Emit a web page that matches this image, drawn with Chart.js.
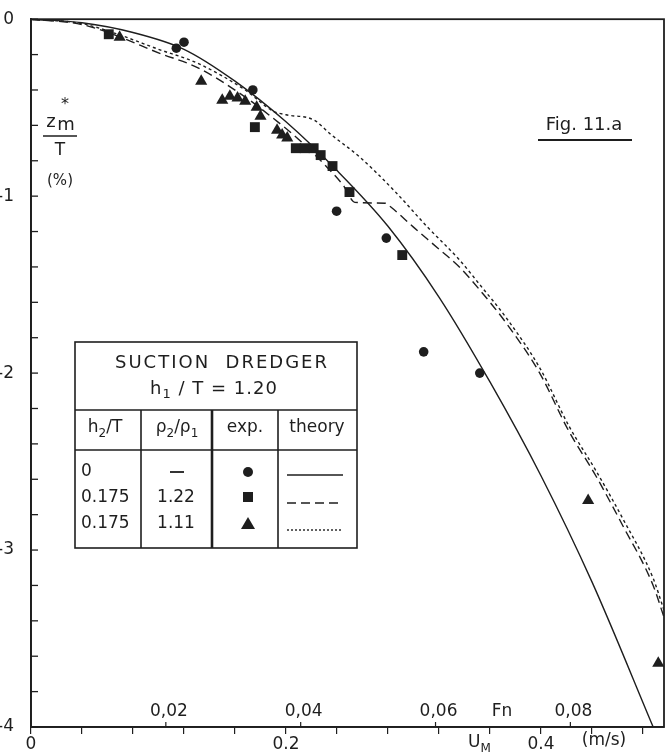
<!DOCTYPE html>
<html lang="en">
<head>
  <meta charset="UTF-8">
  <title>Suction dredger - sinkage z*m/T</title>
  <script src="https://cdn.jsdelivr.net/npm/chart.js"></script>
  <style>
    body { margin: 0; background: #fff; }
    #wrap { width: 671px; height: 755px; }
  </style>
</head>
<body>
  <div id="wrap"><canvas id="chart" width="671" height="755"></canvas></div>

  <script>
    // model speed U_M in m/s, sinkage z*m/T in %
    const X_MAX = 0.4965;      // right edge of the frame (m/s)
    const FN_PER_U = 0.1891;   // Froude number per m/s of model speed

    const uTicks = [0, 0.2, 0.4];
    const fnTicks = [0.02, 0.04, 0.06, 0.08];
    const fnTickLabels = ["0,02", "0,04", "0,06", "0,08"];
    const zLabels = [0, -1, -2, -3, -4];

    // theory, h2/T = 0
    const solidU = [0, 0.04, 0.08, 0.12, 0.16, 0.20, 0.24, 0.28, 0.32, 0.36, 0.40, 0.44, 0.488];
    const solidZ = [0, -0.02, -0.075, -0.17, -0.35, -0.58, -0.855, -1.17, -1.57, -2.05, -2.58, -3.18, -4.0];

    // theory, h2/T = 0.175, rho2/rho1 = 1.22
    const dashU = [0, 0.04, 0.066, 0.10, 0.131, 0.168, 0.19, 0.21, 0.23, 0.245, 0.254, 0.278, 0.282, 0.30, 0.3185, 0.336, 0.352, 0.373, 0.399, 0.422, 0.443, 0.464, 0.488, 0.4965];
    const dashZ = [0, -0.03, -0.09, -0.19, -0.275, -0.44, -0.56, -0.68, -0.82, -0.94, -1.035, -1.04, -1.06, -1.175, -1.29, -1.40, -1.53, -1.72, -2.00, -2.33, -2.58, -2.86, -3.20, -3.38];

    // theory, h2/T = 0.175, rho2/rho1 = 1.11
    const dotU = [0, 0.04, 0.066, 0.10, 0.131, 0.168, 0.19, 0.20, 0.222, 0.235, 0.258, 0.285, 0.311, 0.336, 0.352, 0.373, 0.399, 0.422, 0.443, 0.464, 0.488, 0.4965];
    const dotZ = [0, -0.025, -0.08, -0.17, -0.25, -0.40, -0.52, -0.54, -0.57, -0.65, -0.78, -0.97, -1.175, -1.36, -1.50, -1.69, -1.97, -2.30, -2.55, -2.82, -3.16, -3.34];

    // measurements
    const circleU = [0.114, 0.120, 0.174, 0.2397, 0.2787, 0.308, 0.352];
    const circleZ = [-0.164, -0.13, -0.40, -1.085, -1.237, -1.88, -2.00];
    const squareU = [0.061, 0.1756, 0.2077, 0.2147, 0.2217, 0.2272, 0.2365, 0.2498, 0.2912];
    const squareZ = [-0.085, -0.61, -0.729, -0.729, -0.729, -0.768, -0.83, -0.977, -1.333];
    const triU = [0.0695, 0.1335, 0.150, 0.156, 0.162, 0.168, 0.177, 0.180, 0.193, 0.197, 0.201, 0.437, 0.492];
    const triZ = [-0.102, -0.35, -0.458, -0.435, -0.446, -0.463, -0.497, -0.548, -0.627, -0.655, -0.672, -2.72, -3.64];

    const INK = "#1e1e1e";
    const FONT = "'DejaVu Sans', sans-serif";

    function pts(xs, ys) {
      return xs.map((x, i) => ({ x: x, y: ys[i] }));
    }

    function pickLabel(list, v) {
      const hit = list.find((t) => Math.abs(t - v) < 1e-6);
      return hit === undefined ? "" : String(hit);
    }

    // text with subscripts: parts = [[text, isSub], ...]
    function drawRich(ctx, parts, x, y, size, align) {
      const subSize = Math.round(size * 0.72);
      let w = 0;
      parts.forEach((p) => {
        ctx.font = (p[1] ? subSize : size) + "px " + FONT;
        w += ctx.measureText(p[0]).width;
      });
      let cx = align === "center" ? x - w / 2 : x;
      ctx.textAlign = "left";
      ctx.textBaseline = "middle";
      parts.forEach((p) => {
        ctx.font = (p[1] ? subSize : size) + "px " + FONT;
        ctx.fillText(p[0], cx, p[1] ? y + size * 0.32 : y);
        cx += ctx.measureText(p[0]).width;
      });
    }

    function line(ctx, x1, y1, x2, y2, w, dash) {
      ctx.save();
      ctx.lineWidth = w;
      ctx.setLineDash(dash || []);
      ctx.beginPath();
      ctx.moveTo(x1, y1);
      ctx.lineTo(x2, y2);
      ctx.stroke();
      ctx.restore();
    }

    const decor = {
      id: "decor",
      afterDraw(chart) {
        const ctx = chart.ctx;
        const a = chart.chartArea;
        const ys = chart.scales.y;
        const fn = chart.scales.fn;
        ctx.save();
        ctx.strokeStyle = INK;
        ctx.fillStyle = INK;

        // frame
        ctx.lineWidth = 1.8;
        ctx.strokeRect(a.left, a.top, a.right - a.left, a.bottom - a.top);

        // inward ticks on the z axis
        ys.ticks.forEach((t) => {
          const y = ys.getPixelForValue(t.value);
          line(ctx, a.left, y, a.left + 7, y, 1.3);
        });

        // Froude number scale along the bottom, inside the frame
        ctx.font = "17px " + FONT;
        ctx.textAlign = "center";
        ctx.textBaseline = "middle";
        fnTicks.forEach((v, i) => {
          const x = fn.getPixelForValue(v);
          line(ctx, x, a.bottom, x, a.bottom - 5, 1.2);
          ctx.fillText(fnTickLabels[i], x + 3, a.bottom - 15);
        });
        ctx.fillText("Fn", 502, a.bottom - 15);

        // speed axis name
        drawRich(ctx, [["U", false], ["M", true]], 468, 743, 17, "left");
        ctx.font = "17px " + FONT;
        ctx.textAlign = "center";
        ctx.fillText("(m/s)", 604, 741);

        // z axis title
        ctx.font = "18px " + FONT;
        ctx.textAlign = "center";
        ctx.fillText("z", 51, 122);
        ctx.fillText("m", 66, 125);
        ctx.font = "16px " + FONT;
        ctx.fillText("*", 65, 105);
        line(ctx, 43, 136, 77, 136, 1.6);
        ctx.font = "17px " + FONT;
        ctx.fillText("T", 60, 151);
        ctx.font = "15px " + FONT;
        ctx.fillText("(%)", 60, 181);

        // figure tag
        ctx.font = "18px " + FONT;
        ctx.fillText("Fig. 11.a", 584, 125);
        line(ctx, 538, 140, 632, 140, 1.8);

        // key table
        const L = 75, T = 342, R = 357, B = 548;
        ctx.fillStyle = "#fff";
        ctx.fillRect(L, T, R - L, B - T);
        ctx.fillStyle = INK;
        ctx.lineWidth = 1.6;
        ctx.strokeRect(L, T, R - L, B - T);
        line(ctx, L, 410, R, 410, 1.6);
        line(ctx, L, 450, R, 450, 1.6);
        line(ctx, 141, 410, 141, B, 1.6);
        line(ctx, 212, 410, 212, B, 2.6);
        line(ctx, 278, 410, 278, B, 1.6);

        ctx.font = "18px " + FONT;
        ctx.textAlign = "center";
        ctx.letterSpacing = "2px";
        ctx.fillText("SUCTION  DREDGER", 222, 363);
        ctx.letterSpacing = "1px";
        drawRich(ctx, [["h", false], ["1", true], [" / T = 1.20", false]], 214, 389, 18, "center");
        ctx.letterSpacing = "0px";

        drawRich(ctx, [["h", false], ["2", true], ["/T", false]], 105, 428, 17, "center");
        drawRich(ctx, [["\u03c1", false], ["2", true], ["/\u03c1", false], ["1", true]], 177, 428, 17, "center");
        ctx.font = "17px " + FONT;
        ctx.textAlign = "center";
        ctx.fillText("exp.", 245, 428);
        ctx.fillText("theory", 317, 428);

        ctx.textAlign = "left";
        ctx.fillText("0", 81, 472);
        ctx.fillText("0.175", 81, 498);
        ctx.fillText("0.175", 81, 524);
        ctx.textAlign = "center";
        line(ctx, 170, 472, 184, 472, 1.8);
        ctx.fillText("1.22", 176, 498);
        ctx.fillText("1.11", 176, 524);

        ctx.beginPath();
        ctx.arc(248, 472, 5, 0, Math.PI * 2);
        ctx.fill();
        ctx.fillRect(243, 492, 10, 10);
        ctx.beginPath();
        ctx.moveTo(241, 529);
        ctx.lineTo(255, 529);
        ctx.lineTo(248, 517);
        ctx.closePath();
        ctx.fill();

        line(ctx, 287, 475, 343, 475, 1.4);
        line(ctx, 287, 503, 343, 503, 1.4, [9, 5]);
        line(ctx, 287, 530, 343, 530, 1.4, [2, 2]);

        ctx.restore();
      }
    };

    new Chart(document.getElementById("chart"), {
      type: "scatter",
      data: {
        datasets: [
          {
            label: "theory h2/T = 0",
            data: pts(solidU, solidZ),
            showLine: true,
            borderColor: INK,
            borderWidth: 1.4,
            pointRadius: 0,
            cubicInterpolationMode: "monotone"
          },
          {
            label: "theory rho2/rho1 = 1.22",
            data: pts(dashU, dashZ),
            showLine: true,
            borderColor: INK,
            borderWidth: 1.4,
            borderDash: [9, 5],
            pointRadius: 0,
            cubicInterpolationMode: "monotone"
          },
          {
            label: "theory rho2/rho1 = 1.11",
            data: pts(dotU, dotZ),
            showLine: true,
            borderColor: INK,
            borderWidth: 1.4,
            borderDash: [3, 3],
            pointRadius: 0,
            cubicInterpolationMode: "monotone"
          },
          {
            label: "exp. h2/T = 0",
            data: pts(circleU, circleZ),
            pointStyle: "circle",
            pointRadius: 4.8,
            backgroundColor: INK,
            borderColor: INK,
            borderWidth: 0,
            clip: false
          },
          {
            label: "exp. rho2/rho1 = 1.22",
            data: pts(squareU, squareZ),
            pointStyle: "rect",
            pointRadius: 7,
            backgroundColor: INK,
            borderColor: INK,
            borderWidth: 0,
            clip: false
          },
          {
            label: "exp. rho2/rho1 = 1.11",
            data: pts(triU, triZ),
            pointStyle: "triangle",
            pointRadius: 7,
            backgroundColor: INK,
            borderColor: INK,
            borderWidth: 0,
            clip: false
          }
        ]
      },
      options: {
        responsive: false,
        devicePixelRatio: 1,
        animation: false,
        layout: { padding: { top: 19, right: 4, left: 0, bottom: 0 } },
        plugins: { legend: { display: false }, tooltip: { enabled: false } },
        font: { family: FONT },
        scales: {
          x: {
            type: "linear",
            position: "bottom",
            min: 0,
            max: X_MAX,
            afterFit: (s) => { s.height = 28; },
            grid: { display: true, drawOnChartArea: false, tickLength: 7, color: INK, lineWidth: 1.2 },
            border: { display: true, color: INK, width: 1.8 },
            ticks: {
              stepSize: 0.04,
              includeBounds: false,
              autoSkip: false,
              maxRotation: 0,
              padding: 0,
              color: INK,
              font: { family: FONT, size: 17 },
              callback: (v) => pickLabel(uTicks, v)
            }
          },
          fn: {
            type: "linear",
            axis: "x",
            position: "bottom",
            display: false,
            min: 0,
            max: X_MAX * FN_PER_U
          },
          y: {
            type: "linear",
            min: -4,
            max: 0,
            afterFit: (s) => { s.width = 31; },
            grid: { display: false },
            border: { display: true, color: INK, width: 1.8 },
            ticks: {
              stepSize: 0.2,
              includeBounds: false,
              autoSkip: false,
              padding: 9,
              color: INK,
              font: { family: FONT, size: 17 },
              callback: (v) => pickLabel(zLabels, v)
            }
          }
        }
      },
      plugins: [decor]
    });
  </script>
</body>
</html>
